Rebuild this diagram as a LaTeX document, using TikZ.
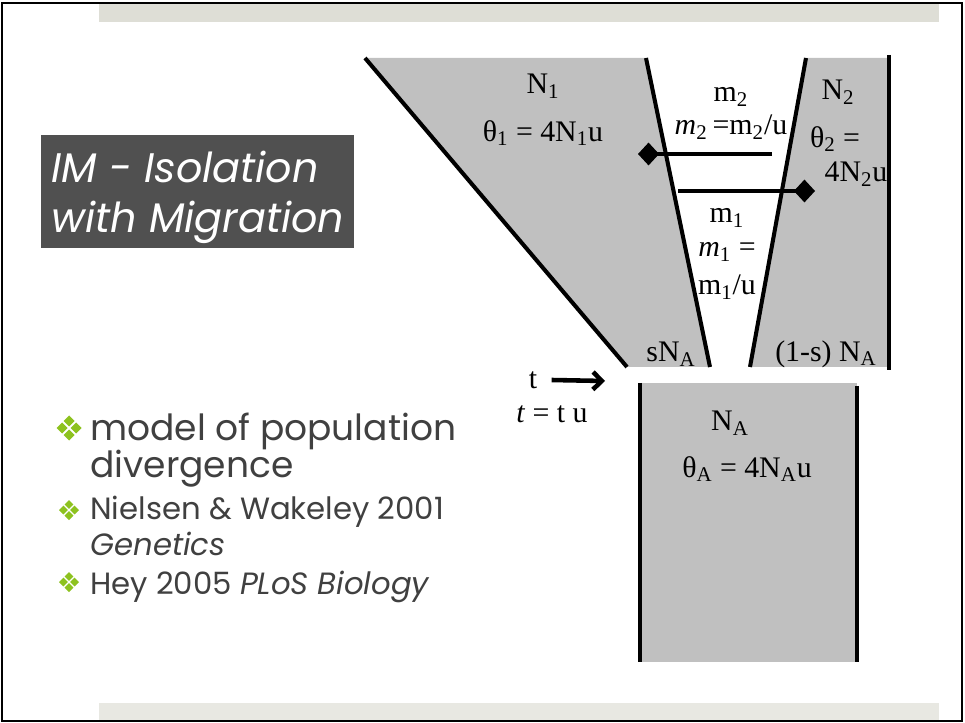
\documentclass[tikz,border=0pt]{standalone}
\usepackage{fontspec}
\setmainfont{Liberation Serif}
\newfontfamily\gothic{Poppins}
\usepackage{tikz}
\usetikzlibrary{positioning,arrows.meta,calc}

\definecolor{popgray}{HTML}{C0C0C0}
\definecolor{titlegray}{HTML}{505050}
\definecolor{bodygray}{HTML}{404040}
\definecolor{leafgreen}{HTML}{8DC21F}
\definecolor{topband}{HTML}{DEDED6}
\definecolor{botband}{HTML}{E8E8E2}

\tikzset{
  popline/.style={line width=2.3pt},
  mig/.style={line width=2.3pt, -{Diamond[length=12pt,width=13pt]}},
  lbl/.style={font=\fontsize{17}{19}\selectfont, inner sep=0pt},
  headline/.style={font=\gothic\itshape\fontsize{23.5}{26}\selectfont, text=white, inner sep=0pt, anchor=base west},
  bigitem/.style={font=\gothic\fontsize{20.5}{24}\selectfont, text=bodygray, inner sep=0pt, anchor=base west},
  item/.style={font=\gothic\fontsize{17.5}{20}\selectfont, text=bodygray, inner sep=0pt, anchor=base west},
  leafmark/.pic={
    \foreach \dx/\dy in {1/0,-1/0,0/1,0/-1}
      \fill[leafgreen] (\dx*7,\dy*7) +(0,-5.5) -- +(5.5,0) -- +(0,5.5) -- +(-5.5,0) -- cycle;
  }
}

\begin{document}
\begin{tikzpicture}[x=0.02cm, y=-0.02cm]
    \useasboundingbox (0,0) rectangle (965,723);

    % slide frame and bands
    \fill[topband] (99,4) rectangle (939,22);
    \fill[botband] (99,703) rectangle (939,720);
    \draw[line width=1.2pt] (2,3) rectangle (962,721);

    % title box
    \fill[titlegray] (41,135) rectangle (354,248);
    \node[headline] (title1) at (51,183) {IM - Isolation};
    \node[headline] (title2) at (51,233) {with Migration};

    % bullets
    \pic at (69,428) {leafmark};
    \pic[scale=0.8] at (69,510) {leafmark};
    \pic[scale=0.8] at (69,582) {leafmark};
    \node[bigitem] (item1) at (90,440) {model of population};
    \node[bigitem] (item1b) at (90,478) {divergence};
    \node[item] (item2) at (90,520) {Nielsen \& Wakeley 2001};
    \node[item] (item2b) at (90,555) {\itshape Genetics};
    \node[item] (item3) at (90,594) {Hey 2005 \itshape PLoS Biology};

    % corners of the populations
    \coordinate (p1tl) at (365,58);
    \coordinate (p1tr) at (646,58);
    \coordinate (p1br) at (710,367);
    \coordinate (p1bl) at (627,367);
    \coordinate (p2tl) at (806,58);
    \coordinate (p2tr) at (889,58);
    \coordinate (p2br) at (889,367);
    \coordinate (p2bl) at (750,367);
    \coordinate (patl) at (640,383);
    \coordinate (patr) at (857,383);
    \coordinate (pabr) at (857,662);
    \coordinate (pabl) at (640,662);

    \fill[popgray] (p1tl) -- (p1tr) -- (p1br) -- (p1bl) -- cycle;
    \fill[popgray] (p2tl) -- (p2tr) -- (p2br) -- (p2bl) -- cycle;
    \fill[popgray] (patl) rectangle (pabr);

    \draw[popline] (p1tl) -- (p1bl);
    \draw[popline] (p1tr) -- (p1br);
    \draw[popline] (p2tl) -- (p2bl);
    \draw[popline] ($(p2tr)+(0,-3)$) -- ($(p2br)+(0,3)$);
    \draw[popline, line width=2.8pt] (patl) -- (pabl);
    \draw[popline, line width=2.8pt] ($(patr)+(0,3)$) -- (pabr);

    % migration arrows
    \coordinate (m2from) at (772,154);
    \coordinate (m2to) at (638,154);
    \coordinate (m1from) at (678,191);
    \coordinate (m1to) at (815,191);
    \draw[mig] (m2from) -- (m2to);
    \draw[mig] (m1from) -- (m1to);

    % labels
    \node[lbl] (n1) at (543,86) {N\textsubscript{1}};
    \node[lbl] (th1) at (543,133) {θ\textsubscript{1} = 4N\textsubscript{1}u};
    \node[lbl] (n2) at (838,92) {N\textsubscript{2}};
    \node[lbl] (th2) at (835,139) {θ\textsubscript{2} =};
    \node[lbl] (th2b) at (856,174) {4N\textsubscript{2}u};
    \node[lbl] (mm2) at (731,97) {m\textsubscript{2}};
    \node[lbl] (mu2) at (731,127) {\textit{m}\textsubscript{2}\,=m\textsubscript{2}/u};
    \node[lbl] (mm1) at (727,218) {m\textsubscript{1}};
    \node[lbl] (mu1) at (727,252) {\textit{m}\textsubscript{1} =};
    \node[lbl] (mu1b) at (727,287) {m\textsubscript{1}/u};
    \node[lbl] (sna) at (671,354) {sN\textsubscript{A}};
    \node[lbl] (rna) at (826,354) {(1-s) N\textsubscript{A}};
    \node[lbl] (na) at (730,423) {N\textsubscript{A}};
    \node[lbl] (tha) at (747,469) {θ\textsubscript{A} = 4N\textsubscript{A}u};

    % time of split
    \node[lbl] (tsplit) at (533,380) {t};
    \node[lbl] (tscaled) at (552,414) {\textit{t} = t u};
    \coordinate (tto) at (605,381);
    \draw[line width=2.6pt, -{Straight Barb[length=5pt,width=10pt]}] (tsplit.east) ++(8pt,0) -- (tto);
\end{tikzpicture}
\end{document}
